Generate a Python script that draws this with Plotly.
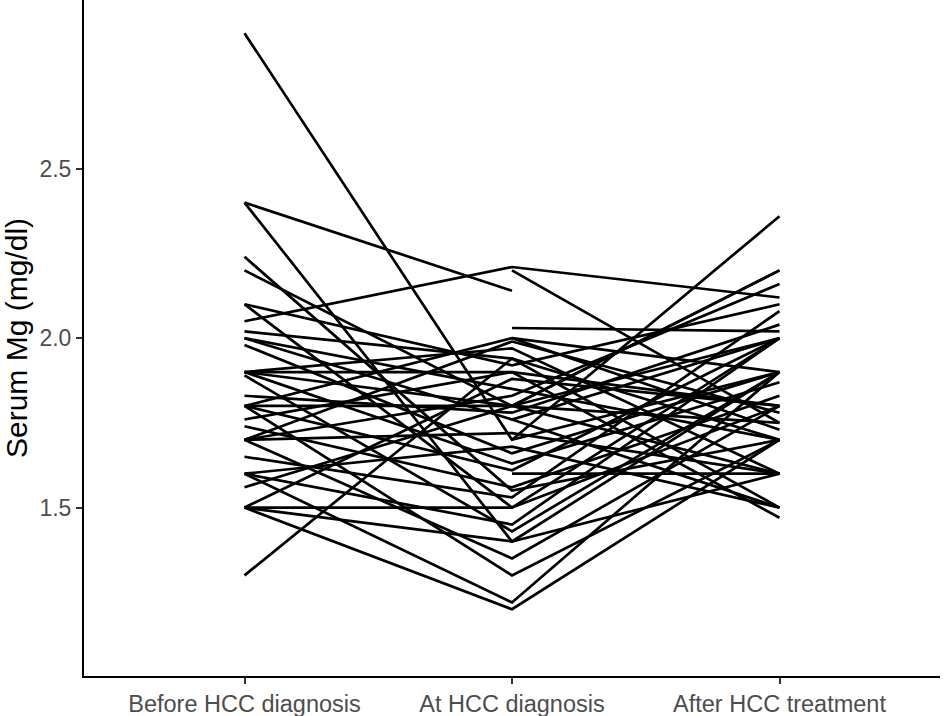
import plotly.graph_objects as go

categories = ["Before HCC diagnosis", "At HCC diagnosis", "After HCC treatment"]

# Serum Mg per patient at the three time points (None = missing)
before = [2.90, 2.40, 2.40, 2.24, 2.20, 2.10, 2.10, 2.05, 2.02, 2.00,
          2.00, 1.98, 1.90, 1.90, 1.90, 1.90, 1.89, 1.83, 1.80, 1.80,
          1.80, 1.80, 1.76, 1.74, 1.70, 1.70, 1.70, 1.70, 1.65, 1.60,
          1.60, 1.60, 1.56, 1.50, 1.50, 1.50, 1.50, 1.30,
          None, None, None, None, None, None, None]
at_dx = [1.70, 2.14, 1.40, 1.55, 1.80, 1.50, 1.92, 2.21, 1.94, 1.76,
         1.85, 1.66, 1.90, 1.80, 1.63, 1.97, 1.43, 1.78, 1.80, 2.00,
         1.61, 1.30, 1.90, 1.56, 1.83, 1.72, 1.35, 1.99, 1.53, 1.68,
         1.22, 1.45, 1.80, 1.50, 1.20, 1.40, 1.88, 1.94,
         2.20, 2.03, 1.70, 1.80, 1.60, 2.00, 1.76]
after = [1.90, None, 1.60, 1.70, 2.00, 1.80, 2.10, 2.12, 1.50, 2.00,
         1.70, 1.90, 1.80, 2.20, 1.87, 1.60, 1.90, 2.04, 1.75, 1.73,
         2.00, 1.70, 1.47, 1.83, 2.16, 1.60, 1.80, 1.78, 2.08, 1.50,
         1.90, 2.00, 1.60, 2.00, 1.70, 1.90, 1.80, 1.70,
         1.75, 2.02, 2.36, 2.20, 1.60, 1.90, 1.50]

y_ticks = [1.5, 2.0, 2.5]
y_tick_labels = ["1.5", "2.0", "2.5"]

fig = go.Figure()
for b, a, t in zip(before, at_dx, after):
    fig.add_trace(go.Scatter(
        x=categories, y=[b, a, t], mode="lines",
        line=dict(color="black", width=2.7),
        connectgaps=False, showlegend=False, hoverinfo="skip"))

font_family = "Liberation Sans, Arial, Helvetica, sans-serif"
fig.update_layout(
    width=944, height=716,
    margin=dict(l=84, r=4, t=0, b=40),
    paper_bgcolor="white", plot_bgcolor="white",
    font=dict(family=font_family),
    showlegend=False,
)
fig.update_xaxes(
    type="category", range=[-0.6, 2.6],
    showline=True, linecolor="black", linewidth=2,
    ticks="outside", ticklen=6, tickwidth=1.6, tickcolor="#333333",
    tickfont=dict(size=23.5, color="#4D4D4D"),
    showgrid=False, zeroline=False, automargin=False,
)
fig.update_yaxes(
    range=[1.003, 2.998],
    tickvals=y_ticks, ticktext=y_tick_labels,
    showline=True, linecolor="black", linewidth=2,
    ticks="outside", ticklen=6, tickwidth=1.6, tickcolor="#333333",
    tickfont=dict(size=23, color="#4D4D4D"),
    title=dict(text="Serum Mg (mg/dl)", font=dict(size=30, color="black"), standoff=4),
    showgrid=False, zeroline=False, automargin=False,
)
fig.write_html("out.html",
               config={"displayModeBar": False},
               post_script="document.body.style.margin='0';document.body.style.padding='0';")
